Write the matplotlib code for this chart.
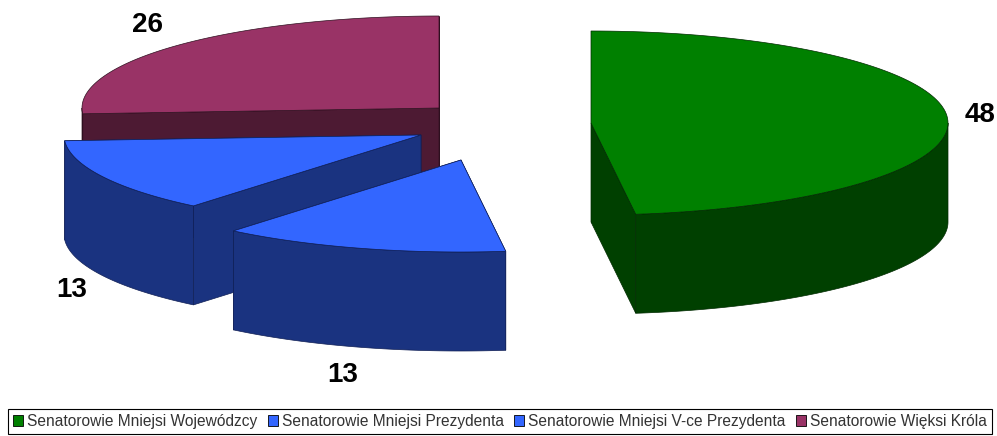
import numpy as np
import matplotlib
matplotlib.use("Agg")
import matplotlib.pyplot as plt
from matplotlib.patches import Patch, Polygon

plt.rcParams['font.family'] = ['Liberation Sans', 'DejaVu Sans']

names = ["Senatorowie Mniejsi Wojewódzcy", "Senatorowie Mniejsi Prezydenta",
         "Senatorowie Mniejsi V-ce Prezydenta", "Senatorowie Więksi Króla"]
values = [48, 13, 13, 26]
top_colors = ["#008000", "#3366ff", "#3366ff", "#993366"]
side_colors = ["#004000", "#1a3380", "#1a3380", "#4d1a33"]
edge_colors = ["#002a00", "#101f55", "#101f55", "#2e0f1f"]

# where each slice's tip ends up after exploding, in pixels
apex_x = [591, 461, 421, 439]
apex_y = [123, 160, 135, 108]
label_x = [980, 343, 72, 147]
label_y = [115, 375, 290, 25]

RX = 357
RY = 92
DEPTH = 99

fig = plt.figure(figsize=(9.97, 4.36), dpi=100)
ax = fig.add_axes([0, 0, 1, 1])
ax.set_xlim(0, 997)
ax.set_ylim(436, 0)
ax.axis("off")


def rim_pts(cx, cy, a0, a1):
    # angles are clockwise from 12 o'clock, in degrees
    t = np.radians(np.linspace(a0, a1, 120))
    return np.column_stack([cx + RX * np.sin(t), cy - RY * np.cos(t)])


def draw_slice(cx, cy, a0, a1, top, side, edge):
    tip = np.array([cx, cy])
    down = np.array([0, DEPTH])
    # cut faces, the one nearer the front goes last
    for a in sorted((a0, a1), key=lambda v: -abs(v - 180)):
        p = rim_pts(cx, cy, a, a)[0]
        ax.add_patch(Polygon([tip, p, p + down, tip + down], fc=side, ec=edge, lw=0.5))
    # outer wall, only the part turned towards the viewer
    lo, hi = max(a0, 90), min(a1, 270)
    if hi > lo:
        arc = rim_pts(cx, cy, lo, hi)
        ax.add_patch(Polygon(np.vstack([arc, arc[::-1] + down]), fc=side, ec=edge, lw=0.5))
    arc = rim_pts(cx, cy, a0, a1)
    ax.add_patch(Polygon(np.vstack([tip, arc]), fc=top, ec=edge, lw=0.5))


starts = np.cumsum([0] + values[:-1]) / sum(values) * 360
ends = np.cumsum(values) / sum(values) * 360

# back to front
for i in [3, 2, 1, 0]:
    draw_slice(apex_x[i], apex_y[i], starts[i], ends[i], top_colors[i], side_colors[i], edge_colors[i])

for i in range(4):
    ax.text(label_x[i], label_y[i], str(values[i]), fontsize=20, fontweight="bold",
            ha="center", va="center", color="black")

handles = [Patch(fc=c, ec="black", lw=0.6) for c in top_colors]
leg = ax.legend(handles, names, ncol=4, loc="lower left", mode="expand",
                bbox_to_anchor=(8 / 997, 2 / 436, 984 / 997, 26 / 436),
                bbox_transform=ax.transAxes,
                fontsize=11.2, fancybox=False, edgecolor="black", framealpha=1,
                handlelength=0.65, handleheight=0.65, handletextpad=0.25,
                columnspacing=0.6, borderaxespad=0, borderpad=0.32)
leg.get_frame().set_linewidth(0.8)
for t in leg.get_texts():
    t.set_color("#333333")

fig.savefig("out.png", dpi=100)
